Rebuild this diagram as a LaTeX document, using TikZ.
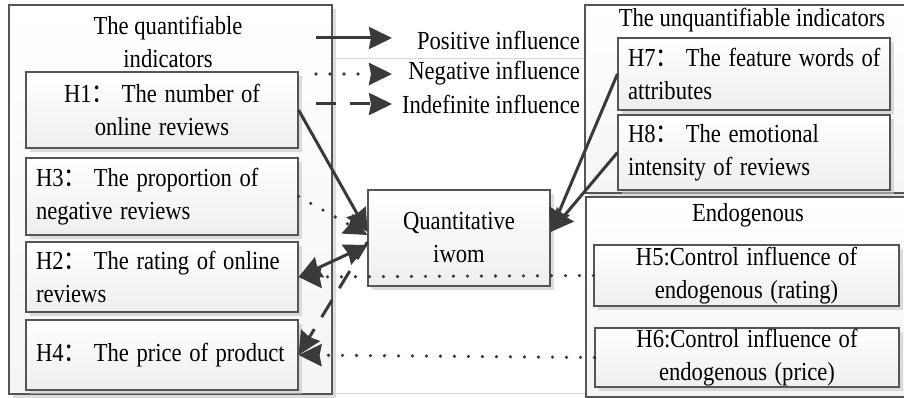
\documentclass[tikz,border=0pt]{standalone}
\usepackage{fontspec}
\usepackage{graphicx}
\setmainfont{Liberation Serif}
\newfontfamily\cjkf{Noto Sans CJK SC}
\newcommand\hcolon{{\cjkf ：}}
\newcommand\sq[1]{\scalebox{0.87}[1]{#1}}
\usetikzlibrary{arrows.meta,shadows}
\definecolor{ln}{HTML}{3a3a3a}
\definecolor{bd}{HTML}{555555}
\tikzset{
  txt/.style={font=\fontsize{26}{33}\selectfont, inner sep=0pt},
  box/.style={draw=bd, line width=1.1pt, top color=white, bottom color=gray!13,
    drop shadow={shadow xshift=4pt, shadow yshift=-4pt, fill=gray!45, opacity=0.6},
    inner xsep=10pt, inner ysep=0pt, font=\fontsize{26}{33}\selectfont},
  outerbox/.style={draw=bd, line width=1.1pt, top color=white, bottom color=gray!8,
    drop shadow={shadow xshift=4pt, shadow yshift=-4pt, fill=gray!45, opacity=0.6}},
  tipx/.tip={Stealth[length=23pt,width=22pt,inset=2pt]},
  arr/.style={draw=ln, line width=3pt, -tipx},
  arrtwo/.style={draw=ln, line width=3pt, tipx-tipx},
  dotl/.style={dash pattern=on 0pt off 14pt, line cap=round, line width=3.6pt},
  dashl/.style={dash pattern=on 20pt off 14pt},
}
\begin{document}
\begin{tikzpicture}[x=1pt,y=-1pt]
\path[use as bounding box, clip] (0,0) rectangle (904,398);

% faint frame lines
\draw[gray!30, line width=1pt] (332,59) -- (586,59);
\draw[gray!30, line width=1pt] (332,393) -- (586,393);

% outer boxes
\node[outerbox, minimum width=323pt, minimum height=389pt] (left) at (170.5,199.5) {};
\node[outerbox, minimum width=330pt, minimum height=188pt] (rtop) at (750,99) {};
\node[outerbox, minimum width=329pt, minimum height=200pt] (rbot) at (750.5,297) {};

% titles
\node[txt, align=center] (tl) at (168,42) {\sq{The quantifiable}\\\sq{indicators}};
\node[txt] (tr) at (752,20) {\sq{The unquantifiable indicators}};
\node[txt] (te) at (748,215) {\sq{Endogenous}};

% left boxes
\node[box, minimum height=76pt, text width=252pt, align=center] (H1) at (162,110) {\sq{H1\hcolon\ The number of}\\\sq{online reviews}};
\node[box, minimum height=77pt, text width=252pt, align=left] (H3) at (162,196.5) {\sq{H3\hcolon\ The proportion of}\\\sq{negative reviews}};
\node[box, minimum height=70pt, text width=252pt, align=left] (H2) at (162,277) {\sq{H2\hcolon\ The rating of online}\\\sq{reviews}};
\node[box, minimum height=70pt, text width=252pt, align=left] (H4) at (162,355) {\sq{H4\hcolon\ The price of product}};

% centre
\node[box, minimum height=96pt, text width=162pt, align=center] (iwom) at (459,238) {\sq{Quantitative}\\\sq{iwom}};

% right boxes
\node[box, minimum height=72pt, text width=252pt, align=left] (H7) at (754,74) {\sq{H7\hcolon\ The feature words of}\\\sq{attributes}};
\node[box, minimum height=75pt, text width=252pt, align=left] (H8) at (754,152.5) {\sq{H8\hcolon\ The emotional}\\\sq{intensity of reviews}};
\node[box, minimum height=61pt, text width=285pt, align=center] (H5) at (746.5,275.5) {\sq{H5:Control influence of}\\\sq{endogenous (rating)}};
\node[box, minimum height=59pt, text width=284pt, align=center] (H6) at (747,357.5) {\sq{H6:Control influence of}\\\sq{endogenous (price)}};

% legend
\coordinate (ls1) at (316,38);  \coordinate (le1) at (392,38);
\coordinate (ls2) at (316,74);  \coordinate (le2) at (392,74);
\coordinate (ls3) at (316,104); \coordinate (le3) at (392,104);
\node[txt, anchor=east] (lp) at (580,40) {\sq{Positive influence}};
\node[txt, anchor=east] (lneg) at (580,73) {\sq{Negative influence}};
\node[txt, anchor=east] (lind) at (580,104) {\sq{Indefinite influence}};
\draw[arr] (ls1) -- (le1);
\draw[arr, dotl] (ls2) -- (le2);
\draw[arr, dashl] (ls3) -- (le3);

% connectors
\draw[arr] (H1.east) -- ([yshift=6pt]iwom.west);
\draw[arr, dotl] (H3.east) -- ([yshift=3pt]iwom.west);
\draw[arrtwo] ([yshift=-7pt]iwom.west) -- (H2.east);
\draw[arr, dashl] ([yshift=-4pt]iwom.west) -- (H4.east);
\draw[arr, dotl] (H5.west) -- (H2.east);
\draw[arr, dotl] (H6.west) -- (H4.east);
\draw[arr] (H7.west) -- ([yshift=6pt]iwom.east);
\draw[arr] (H8.west) -- ([yshift=6pt]iwom.east);
\end{tikzpicture}
\end{document}
